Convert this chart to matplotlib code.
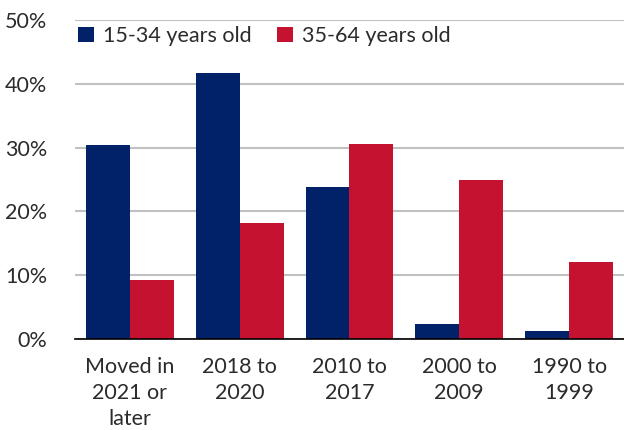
import matplotlib
matplotlib.use("Agg")
import matplotlib.pyplot as plt
from matplotlib.ticker import FuncFormatter
import numpy as np

categories = ["Moved in\n2021 or\nlater", "2018 to\n2020", "2010 to\n2017", "2000 to\n2009", "1990 to\n1999"]
series_names = ["15-34 years old", "35-64 years old"]
young = [30.4, 41.7, 23.8, 2.4, 1.2]
older = [9.2, 18.2, 30.5, 24.9, 12.1]
y_ticks = [0, 10, 20, 30, 40, 50]

navy = "#012169"
red = "#C41230"
text_color = "#2b2b2b"

plt.rcParams["font.family"] = ["Lato", "DejaVu Sans"]

fig = plt.figure(figsize=(6.24, 4.30), dpi=100)
ax = fig.add_axes([0.12, 0.2116, 0.88, 0.7419])

x = np.arange(len(categories))
w = 0.4
ax.bar(x - w / 2, young, width=w, color=navy, label=series_names[0], zorder=3)
ax.bar(x + w / 2, older, width=w, color=red, label=series_names[1], zorder=3)

ax.set_xlim(-0.5, len(categories) - 0.5)
ax.set_ylim(0, 50)
ax.set_yticks(y_ticks)
ax.yaxis.set_major_formatter(FuncFormatter(lambda v, _: f"{v:.0f}%"))
ax.set_xticks(x)
ax.set_xticklabels(categories, linespacing=1.38)

ax.grid(axis="y", color="#c0c0c0", linewidth=1.5, zorder=0)
for s in ["left", "right", "top"]:
    ax.spines[s].set_visible(False)
ax.spines["bottom"].set_color("black")
ax.spines["bottom"].set_linewidth(1.2)
ax.spines["bottom"].set_zorder(4)
ax.tick_params(axis="both", length=0, labelsize=15.5, colors=text_color)
ax.tick_params(axis="y", pad=20)
ax.tick_params(axis="x", pad=13)

ax.legend(loc="upper left", bbox_to_anchor=(-0.018, 1.022), ncol=2, frameon=False,
          fontsize=15.5, handlelength=0.75, handleheight=0.75, handletextpad=0.4,
          columnspacing=1.2, labelcolor=text_color, borderaxespad=0.2)

fig.savefig("out.png", dpi=100)
